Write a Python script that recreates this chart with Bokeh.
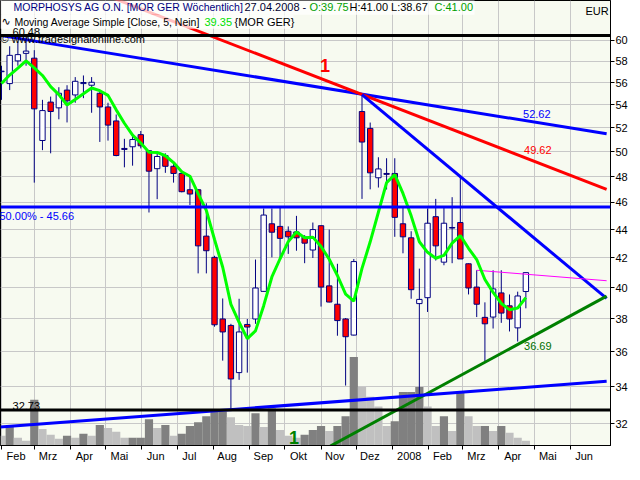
import datetime as dt
import numpy as np
from bokeh.plotting import figure
from bokeh.models import (FixedTicker, Label, BoxAnnotation, Range1d, LinearScale,
                          NumeralTickFormatter, ColumnDataSource, Span)
from bokeh.embed import file_html
from bokeh.resources import INLINE

# ---------------- data (weekly candles, MORPHOSYS AG O.N.) ----------------
first_week = dt.datetime(2007, 2, 1)
opens = [57.00, 55.90, 58.02, 58.74, 58.28, 50.92, 54.23, 53.72, 55.31, 54.87,
         55.90, 55.75, 55.02, 53.80, 52.58, 50.26, 50.40, 51.41, 50.07, 48.62,
         49.68, 48.81, 48.24, 46.97, 46.97, 43.53, 42.04, 38.00, 37.60, 34.80,
         37.66, 38.00, 39.76, 44.42, 44.23, 43.88, 43.83, 43.46, 42.55, 44.28,
         40.12, 38.93, 38.00, 37.01, 53.40, 51.94, 47.90, 48.24, 48.24, 44.42,
         43.41, 38.97, 39.35, 44.94, 41.71, 44.11, 44.51, 41.60, 40.04, 38.10,
         38.12, 39.66, 38.83, 37.45, 39.75]
highs = [57.56, 59.43, 59.90, 60.48, 59.05, 54.43, 54.72, 55.57, 55.75, 56.50,
         56.65, 56.50, 55.16, 54.17, 53.14, 51.06, 51.47, 51.72, 50.12, 50.02,
         49.86, 49.07, 48.29, 48.06, 46.99, 45.94, 42.15, 39.30, 37.70, 39.28,
         38.00, 41.89, 45.55, 45.55, 45.67, 44.23, 45.00, 43.60, 44.51, 44.30,
         44.00, 41.60, 38.06, 41.93, 55.02, 52.44, 49.54, 49.46, 49.46, 45.67,
         43.88, 41.27, 45.55, 46.27, 45.67, 46.40, 48.05, 41.62, 41.16, 39.05,
         41.16, 41.16, 39.56, 39.74, 41.00]
lows = [54.43, 55.31, 57.56, 57.56, 47.52, 50.12, 49.86, 52.72, 52.45, 54.17,
        54.58, 53.29, 50.80, 50.91, 49.62, 48.73, 48.86, 50.26, 45.25, 46.25,
        48.29, 47.52, 46.77, 45.81, 40.95, 40.95, 37.52, 35.49, 32.73, 34.39,
        34.80, 37.70, 39.74, 42.04, 41.93, 42.28, 42.50, 41.64, 42.00, 38.78,
        39.05, 36.97, 34.07, 36.99, 46.27, 47.00, 47.14, 46.99, 43.48, 42.32,
        39.28, 33.45, 38.44, 41.82, 41.50, 41.64, 41.93, 39.56, 38.12, 35.46,
        37.41, 37.76, 37.23, 36.62, 38.67]
closes = [57.05, 58.55, 58.62, 58.96, 53.63, 53.48, 53.40, 55.02, 54.34, 56.11,
          56.00, 56.02, 53.80, 52.22, 49.68, 50.18, 51.00, 50.48, 48.42, 49.60,
          48.81, 48.24, 46.82, 46.64, 42.84, 42.50, 37.64, 37.20, 34.44, 37.20,
          37.50, 39.98, 45.06, 43.81, 43.37, 43.48, 43.41, 43.03, 44.00, 40.04,
          39.07, 37.90, 36.91, 41.75, 50.79, 48.29, 48.60, 48.17, 44.89, 43.48,
          39.87, 39.24, 44.46, 42.84, 44.46, 44.15, 41.93, 39.98, 38.93, 37.70,
          39.92, 38.37, 38.00, 39.46, 41.00]
# closes of the four weeks before the chart (needed for the 5-week average)
prior_closes = [54.65, 55.37, 55.51, 56.97]
volumes = [100, 190, 80, 50, 470, 170, 110, 70, 100, 80,
           120, 100, 210, 180, 140, 80, 80, 80, 270, 180,
           210, 100, 120, 200, 240, 300, 350, 350, 290, 210,
           200, 330, 190, 380, 160, 100, 80, 110, 160, 200,
           150, 200, 300, 910, 600, 500, 400, 200, 250, 550,
           550, 600, 400, 200, 300, 150, 550, 300, 200, 200,
           150, 200, 130, 80, 50]
ma_period = 5

month_names = ["Feb", "Mrz", "Apr", "Mai", "Jun", "Jul", "Aug", "Sep", "Okt",
               "Nov", "Dez", "2008", "Feb", "Mrz", "Apr", "Mai", "Jun"]
month_starts = [dt.datetime(2007 + (1 + k) // 12, (1 + k) % 12 + 1, 1) for k in range(17)]
y_ticks = list(range(32, 61, 2))
currency = "EUR"

# horizontal levels and trend lines (date, price)
level_high = 60.48
level_fib = 45.66
level_low = 32.73
line_upper_blue = (["2007-02-02", "2008-07-02"], [60.45, 51.48])
line_red = (["2007-04-23", "2008-07-02"], [65.0, 47.0])
line_steep_blue = (["2007-12-06", "2008-07-02"], [54.90, 39.30])
line_green = (["2007-11-09", "2008-07-02"], [30.85, 39.45])
line_lower_blue = (["2007-01-31", "2008-07-02"], [31.83, 34.31])
line_magenta = (["2008-03-13", "2008-07-02"], [41.16, 40.46])

# ---------------- helpers ----------------
DAY = 86400000.0
def ms(d):
    if isinstance(d, str):
        d = dt.datetime.strptime(d, "%Y-%m-%d")
    return (d - dt.datetime(1970, 1, 1)).total_seconds() * 1000.0

def yv(ypx):
    # price at a given height of the reference picture (log scale)
    return 60.0 * np.exp((44.0 - ypx) / 626.3)

def xd(xpx):
    return ms("2007-02-01") + (xpx - 5.0) / 1.1647 * DAY

# ---------------- derived ----------------
n = len(closes)
dates = [ms(first_week + dt.timedelta(days=7 * i)) for i in range(n)]
allc = np.array(prior_closes + closes)
ma = np.convolve(allc, np.ones(ma_period) / ma_period, mode="valid")

up = [c >= o for o, c in zip(opens, closes)]
src = ColumnDataSource(dict(
    x=dates, o=opens, h=highs, l=lows, c=closes,
    top=[max(o, c) for o, c in zip(opens, closes)],
    bot=[min(o, c) for o, c in zip(opens, closes)],
    fill=["#FFFFFF" if u else "#FF0000" for u in up],
    vol=volumes,
    vcol=["#C0C0C0" if (i == 0 or volumes[i] < volumes[i - 1]) else "#808080"
          for i in range(n)],
))

x_start = ms("2007-01-31") + 0.15 * DAY
x_end = ms("2008-07-05") + 0.3 * DAY
y_lo, y_hi = 30.88, 64.06

p = figure(width=630, height=464, output_backend="svg", toolbar_location=None,
           x_axis_type="datetime", y_axis_type="log", y_axis_location="right",
           x_range=Range1d(x_start, x_end), y_range=Range1d(y_lo, y_hi),
           min_border=0, min_border_left=0, min_border_top=0,
           min_border_right=0, min_border_bottom=0)
p.background_fill_color = "#F7FAF0"
p.border_fill_color = "#FFFFFF"
p.outline_line_color = "#000000"
p.outline_line_width = 1

p.extra_y_ranges = {"vol": Range1d(0, 4570)}
p.extra_y_scales = {"vol": LinearScale()}

# grid
p.xgrid.ticker = FixedTicker(ticks=[ms(d) for d in month_starts])
p.ygrid.ticker = FixedTicker(ticks=y_ticks)
p.xgrid.grid_line_color = "#C8C8C8"
p.ygrid.grid_line_color = "#C8C8C8"

def bare_axis(ax):
    ax.axis_label = None
    ax.major_tick_out = 4
    ax.major_tick_in = 0
    ax.minor_tick_out = 0
    ax.minor_tick_in = 0
    ax.major_label_text_font = "Liberation Sans"
    ax.major_label_text_font_size = "11px"
    ax.major_label_text_color = "#000000"
    ax.axis_line_color = "#000000"

ya = p.yaxis[0]
bare_axis(ya)
ya.ticker = FixedTicker(ticks=y_ticks)
ya.formatter = NumeralTickFormatter(format="0")
ya.major_label_standoff = 1

# x axis: ticks at month starts, label text begins just right of each tick
cw = {"F": 611, "e": 556, "b": 556, "M": 833, "r": 333, "z": 500, "A": 667, "p": 556,
      "a": 556, "i": 222, "J": 500, "u": 556, "n": 556, "l": 222, "g": 556, "S": 667,
      "O": 778, "k": 500, "t": 278, "N": 722, "o": 556, "v": 500, "D": 722, "2": 556,
      "0": 556, "8": 556}
def padded(t, first=False):
    w = sum(cw.get(ch, 556) for ch in t) * 11 / 1000.0
    k = 2 if first else int(round((9.0 + w) / (278 * 11 / 1000.0)))
    return "\u00a0" * k + t

xa = p.xaxis[0]
bare_axis(xa)
xa.ticker = FixedTicker(ticks=[ms(d) for d in month_starts])
xa.major_label_overrides = {ms(d): padded(t, i == 0)
                            for i, (d, t) in enumerate(zip(month_starts, month_names))}
xa.major_label_standoff = 0

# volume
p.vbar(x="x", top="vol", bottom=0, width=7 * DAY, source=src, y_range_name="vol",
       fill_color="vcol", line_color=None)

# horizontal levels
for lv, col in [(level_high, "#000000"), (level_fib, "#0000FF"), (level_low, "#000000")]:
    p.add_layout(Span(location=lv, dimension="width", line_color=col, line_width=3))

# candles
p.segment(x0="x", y0="l", x1="x", y1="h", source=src, line_color="#000080", line_width=1)
p.vbar(x="x", top="top", bottom="bot", width=4.6 * DAY, source=src,
       fill_color="fill", line_color="#000080", line_width=1)

# trend lines
for (xs, ys), col, w in [(line_upper_blue, "#0000FF", 3), (line_red, "#FF0000", 3),
                         (line_steep_blue, "#0000FF", 3), (line_green, "#008000", 3),
                         (line_lower_blue, "#0000FF", 3), (line_magenta, "#FF00FF", 1)]:
    p.line([ms(v) for v in xs], ys, line_color=col, line_width=w)

# moving average
p.line(dates, list(ma), line_color="#00FF00", line_width=3)

# ---------------- annotations ----------------
FONT = "Liberation Sans"
def lab(text, x, y, color="#000000", size="11px", xu="screen", align="left",
        base="middle", style="normal", font=FONT):
    p.add_layout(Label(x=x, y=y, x_units=xu, text=text, text_color=color,
                       text_font_size=size, text_align=align, text_baseline=base,
                       text_font=font, text_font_style=style))

p.add_layout(BoxAnnotation(left=0, right=474, left_units="screen", right_units="screen",
                           top=70, bottom=yv(17.5), fill_color="#FFFFFF", fill_alpha=0.75,
                           line_color=None))
p.add_layout(BoxAnnotation(left=0, right=293, left_units="screen", right_units="screen",
                           top=yv(17.5), bottom=yv(32), fill_color="#FFFFFF", fill_alpha=0.75,
                           line_color=None))

lab("MORPHOSYS AG O.N. [MOR GER  Wöchentlich]", 13, yv(10), "#000080", size="10.5px")
lab("27.04.2008 -", 244, yv(10), "#000030")
lab("O:39.75", 309, yv(10), "#00A000")
lab("H:41.00 L:38.67", 349, yv(10), "#000000")
lab("C:41.00", 434, yv(10), "#00A000")
lab("\u223f", 1, yv(25), "#000000", font="DejaVu Sans")
lab("Moving Average Simple [Close, 5, Nein]", 14, yv(25), "#000000", size="10.5px")
lab("39.35", 204, yv(25), "#00E000")
lab("{MOR GER}", 234, yv(25), "#000000")
lab("\u00a9 www.tradesignalonline.com", 0, yv(42.5), "#000000")

lab("60.48", xd(16), level_high, "#000000", xu="data", base="bottom")
lab("32.73", xd(16), level_low, "#000000", xu="data", base="bottom")
lab("50.00% - 45.66", xd(3), yv(224), "#0000FF", xu="data")
lab("52.62", xd(524), yv(120), "#0000FF", xu="data")
lab("49.62", xd(525), yv(157), "#FF0000", xu="data")
lab("36.69", xd(525), yv(358), "#007000", xu="data")
lab("1", xd(327), yv(70), "#FF0000", size="18px", xu="data", align="center", style="bold")
lab("1", xd(296), yv(452), "#008000", size="18px", xu="data", align="center", style="bold")
lab(currency, x_end - 1.5 * DAY, yv(14), "#000000", xu="data", align="right")

open("out.html", "w").write(file_html(p, INLINE))
